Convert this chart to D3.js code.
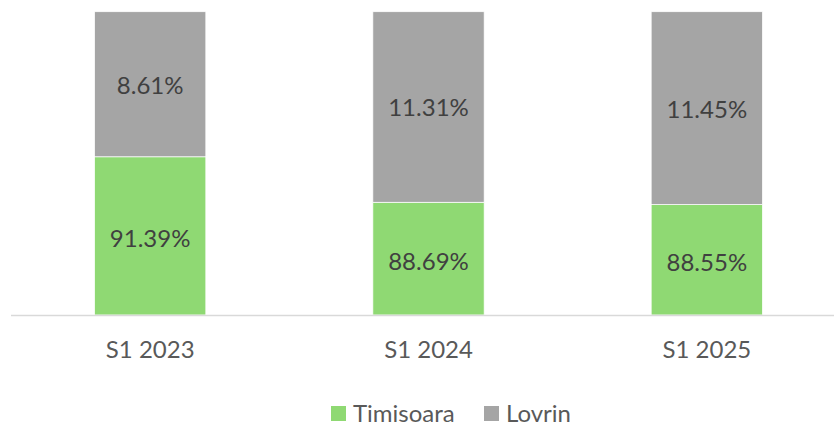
<!DOCTYPE html>
<html><head><meta charset="utf-8">
<script src="https://cdn.jsdelivr.net/npm/d3@7"></script>
<style>body{margin:0;background:#fff}svg{display:block}</style>
</head><body><svg id="c" width="834" height="426"></svg>
<script>
const categories = ["S1 2023", "S1 2024", "S1 2025"];
const seriesNames = ["Timisoara", "Lovrin"];
const timisoara = [91.39, 88.69, 88.55];
const lovrin = [8.61, 11.31, 11.45];
const yDomain = [82, 100];
const colors = ["#8FD973", "#A5A5A5"];

const svg = d3.select("#c");
const font = "Lato, 'Open Sans', sans-serif";
const x = d3.scaleBand().domain(categories).range([11, 846]).paddingInner(0.6).paddingOuter(0.3);
const y = d3.scaleLinear().domain(yDomain).range([315, 11.7]).clamp(true);

const rows = categories.map((c, i) => ({cat: c, Timisoara: timisoara[i], Lovrin: lovrin[i]}));
const stack = d3.stack().keys(seriesNames)(rows);

const g = svg.append("g");
stack.forEach((layer, li) => {
  g.selectAll(null).data(layer).enter().append("rect")
    .attr("x", d => x(d.data.cat))
    .attr("width", x.bandwidth())
    .attr("y", d => y(d[1]))
    .attr("height", d => y(d[0]) - y(d[1]))
    .attr("fill", colors[li])
    .attr("stroke", "#fff").attr("stroke-width", 0.75);
  g.selectAll(null).data(layer).enter().append("text")
    .attr("x", d => x(d.data.cat) + x.bandwidth() / 2)
    .attr("y", d => (y(d[0]) + y(d[1])) / 2 + (li === 0 ? 3 : 1))
    .attr("dy", "0.35em")
    .attr("text-anchor", "middle")
    .attr("font-family", font).attr("font-size", 24)
    .attr("fill", "#404040")
    .text(d => (d[1] - d[0]).toFixed(2) + "%");
});

// axis
const axis = d3.axisBottom(x).tickSize(0).tickPadding(26);
const ax = svg.append("g").attr("transform", "translate(0,315)").call(axis);
ax.select(".domain").attr("d", "M11,0.5H834").attr("stroke", "#D9D9D9").attr("stroke-width", 1.5);
ax.selectAll("text").attr("font-family", font).attr("font-size", 24).attr("fill", "#595959");

// legend
const legend = svg.append("g");
const lx = [331, 484];
seriesNames.forEach((s, i) => {
  legend.append("rect").attr("x", lx[i]).attr("y", 406).attr("width", 15).attr("height", 15).attr("fill", colors[i]);
  legend.append("text").attr("x", lx[i] + 22).attr("y", 414).attr("dy", "0.35em")
    .attr("font-family", font).attr("font-size", 24).attr("fill", "#595959").text(s);
});
</script></body></html>
